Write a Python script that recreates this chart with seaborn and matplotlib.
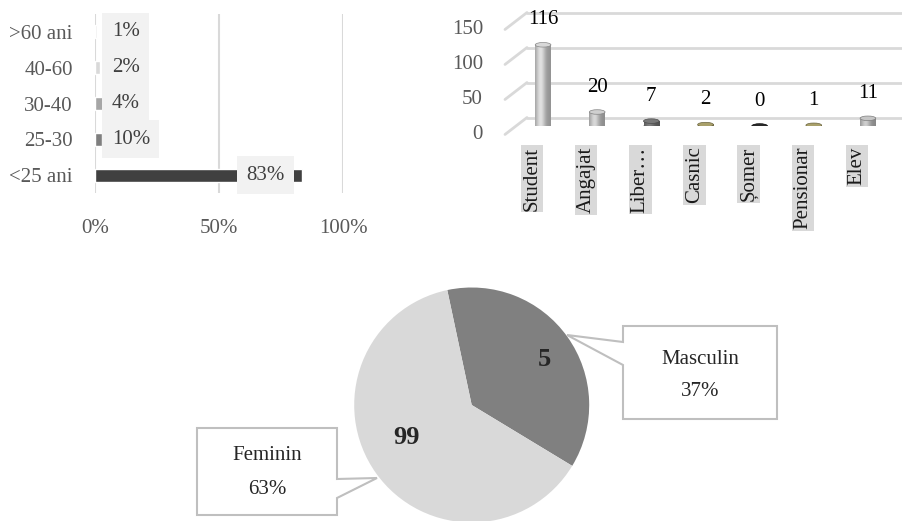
import numpy as np
import matplotlib.pyplot as plt
import matplotlib.colors as mcolors
import seaborn as sns
from matplotlib.patches import Ellipse, Polygon

sns.set_style("white")
plt.rcParams["font.family"] = ["Liberation Serif", "DejaVu Serif"]

# ============================================================
# DATA
# ============================================================

# age groups (top chart, left) - bar lengths as drawn, labels as printed
age_groups = [">60 ani", "40-60", "30-40", "25-30", "<25 ani"]
age_share = [1, 2, 3.5, 3, 83.5]
age_labels = ["1%", "2%", "4%", "10%", "83%"]
age_colors = ["#eeeeee", "#d9d9d9", "#a6a6a6", "#7f7f7f", "#404040"]
age_ticks = [0, 50, 100]

# occupation (top chart, right)
occupations = ["Student", "Angajat", "Liber…", "Casnic", "Șomer", "Pensionar", "Elev"]
occupation_counts = [116, 20, 7, 2, 0, 1, 11]
occupation_colors = ["#c4c4c4", "#bcbcbc", "#6e6e6e", "#9a9160", "#262626", "#9a9160", "#b4b4b4"]
count_ticks = [0, 50, 100, 150]

# gender (bottom pie)
genders = ["Masculin", "Feminin"]
gender_pct = [37, 63]
gender_counts = [5, 99]
gender_colors = ["#808080", "#d9d9d9"]

W, H = 902, 521
TXT = 15


def rect(x0, y0, x1, y1):
    # pixel box (top-left origin) -> figure fraction
    return [x0 / W, 1 - y1 / H, (x1 - x0) / W, (y1 - y0) / H]


fig = plt.figure(figsize=(W / 100, H / 100), dpi=100)

# ============================================================
# PIE (full figure axes, pixel coordinates)
# ============================================================

ax3 = fig.add_axes([0, 0, 1, 1], zorder=0)
ax3.set_facecolor("none")
wedges, _ = ax3.pie(
    gender_pct,
    colors=gender_colors,
    startangle=102,
    counterclock=False,
    center=(471.7, H - 405),
    radius=117.5,
    wedgeprops=dict(edgecolor="none", linewidth=0),
)
ax3.set_xlim(0, W)
ax3.set_ylim(0, H)
ax3.set_aspect("auto")
ax3.axis("off")

# callout boxes
masc_box = [(623, 326), (777, 326), (777, 419), (623, 419), (623, 365), (567, 335), (623, 342)]
fem_box = [(197, 428), (337, 428), (337, 479), (377, 478), (337, 498), (337, 515), (197, 515)]
for pts in [masc_box, fem_box]:
    ax3.add_patch(Polygon([(x, H - y) for x, y in pts], closed=True,
                          facecolor="white", edgecolor="#bfbfbf", lw=1.5, zorder=5))

ax3.text(700, H - 360, genders[0], ha="center", va="center", size=TXT, zorder=6)
ax3.text(700, H - 392, f"{gender_pct[0]}%", ha="center", va="center", size=TXT, zorder=6)
ax3.text(267, H - 455, genders[1], ha="center", va="center", size=TXT, zorder=6)
ax3.text(267, H - 489, f"{gender_pct[1]}%", ha="center", va="center", size=TXT, zorder=6)

# counts inside the slices
ax3.text(544, H - 359, str(gender_counts[0]), ha="center", va="center", size=19, weight="bold")
ax3.text(407, H - 437, str(gender_counts[1]), ha="center", va="center", size=19, weight="bold")

# ============================================================
# AGE GROUPS (horizontal bars)
# ============================================================

ax1 = fig.add_axes(rect(95, 14, 343, 193), zorder=1)
ax1.set_facecolor("none")
sns.barplot(x=age_share, y=age_groups, hue=age_groups, palette=age_colors,
            orient="h", width=0.36, legend=False, ax=ax1)
ax1.set_xlim(0, 100)
ax1.set_ylim(4.5, -0.5)
ax1.set_xticks(age_ticks)
ax1.set_xticklabels([f"{t}%" for t in age_ticks])
ax1.grid(axis="x", color="#d9d9d9", lw=1.5)
ax1.set_axisbelow(True)
ax1.tick_params(axis="x", length=0, pad=19, labelsize=TXT, labelcolor="#595959")
ax1.tick_params(axis="y", length=0, pad=16, labelsize=TXT, labelcolor="#595959")
ax1.set_xlabel("")
ax1.set_ylabel("")
sns.despine(ax=ax1, left=True, bottom=True)

for i, (v, lab) in enumerate(zip(age_share, age_labels)):
    box = dict(boxstyle="square,pad=0.45", fc="#f2f2f2", ec="none")
    if v > 50:
        ax1.annotate(lab, (v, i), xytext=(-17, 0), textcoords="offset pixels",
                     ha="right", va="center", size=TXT, color="#404040", bbox=box)
    else:
        ax1.annotate(lab, (max(v, 3.5), i), xytext=(8, 0), textcoords="offset pixels",
                     ha="left", va="center", size=TXT, color="#404040", bbox=box)

# ============================================================
# OCCUPATION (pseudo 3D cylinders)
# ============================================================

ax2 = fig.add_axes(rect(516, 21, 895, 126), zorder=1)
ax2.set_facecolor("none")
sns.barplot(x=occupations, y=occupation_counts, hue=occupations, palette=occupation_colors,
            width=0.29, legend=False, ax=ax2)
ax2.set_xlim(-0.5, 6.5)
ax2.set_ylim(0, 150)

# depth of the 3D box in data units (about 11 px across, 8.5 px up)
dx = 0.203
dy = 12.1

for t in count_ticks:
    ax2.plot([-0.5 + dx, 7.5], [t + dy, t + dy], color="#d9d9d9", lw=2, clip_on=False, zorder=1)
    ax2.plot([-0.5 - dx, -0.5 + dx], [t - dy, t + dy], color="#d9d9d9", lw=2, clip_on=False, zorder=1)
    ax2.annotate(str(t), (-0.5 - dx, t - dy), xytext=(-22, 0), textcoords="offset pixels",
                 ha="right", va="center", size=TXT, color="#595959", annotation_clip=False)

ell_h = 6.5
tt = np.linspace(0, 1, 64)
shade = 0.75 + 0.4 * np.exp(-((tt - 0.35) / 0.3) ** 2)

for p, color, count in zip(ax2.patches, occupation_colors, occupation_counts):
    x0 = p.get_x()
    w = p.get_width()
    h = p.get_height()
    xc = x0 + w / 2
    base = np.array(mcolors.to_rgb(color))
    p.set_zorder(3)
    p.set_edgecolor("none")
    ax2.add_patch(Ellipse((xc, 0), w, ell_h, fc=base * 0.8, ec="none", zorder=2.9))
    if h > 0:
        img = np.clip(base[None, None, :] * shade[None, :, None], 0, 1)
        ax2.imshow(img, extent=(x0, x0 + w, 0, h), aspect="auto", zorder=3.05)
    ax2.add_patch(Ellipse((xc, h), w, ell_h, fc=np.clip(base * 1.1, 0, 1),
                          ec=base * 0.7, lw=0.5, zorder=3.1))
    ax2.annotate(str(count), (xc, h), xytext=(0, 25), textcoords="offset pixels",
                 ha="center", va="center", size=TXT, color="black", annotation_clip=False)

ax2.set_xlim(-0.5, 6.5)
ax2.set_ylim(0, 150)
ax2.axis("off")

for i, name in enumerate(occupations):
    ax2.annotate(name, (i - dx, -dy), xytext=(0, -12), textcoords="offset pixels",
                 rotation=90, ha="center", va="top", size=TXT, color="#1a1a1a",
                 bbox=dict(boxstyle="square,pad=0.08", fc="#d9d9d9", ec="none"),
                 annotation_clip=False)

fig.savefig("out.png", dpi=100)
print("Saved out.png")
